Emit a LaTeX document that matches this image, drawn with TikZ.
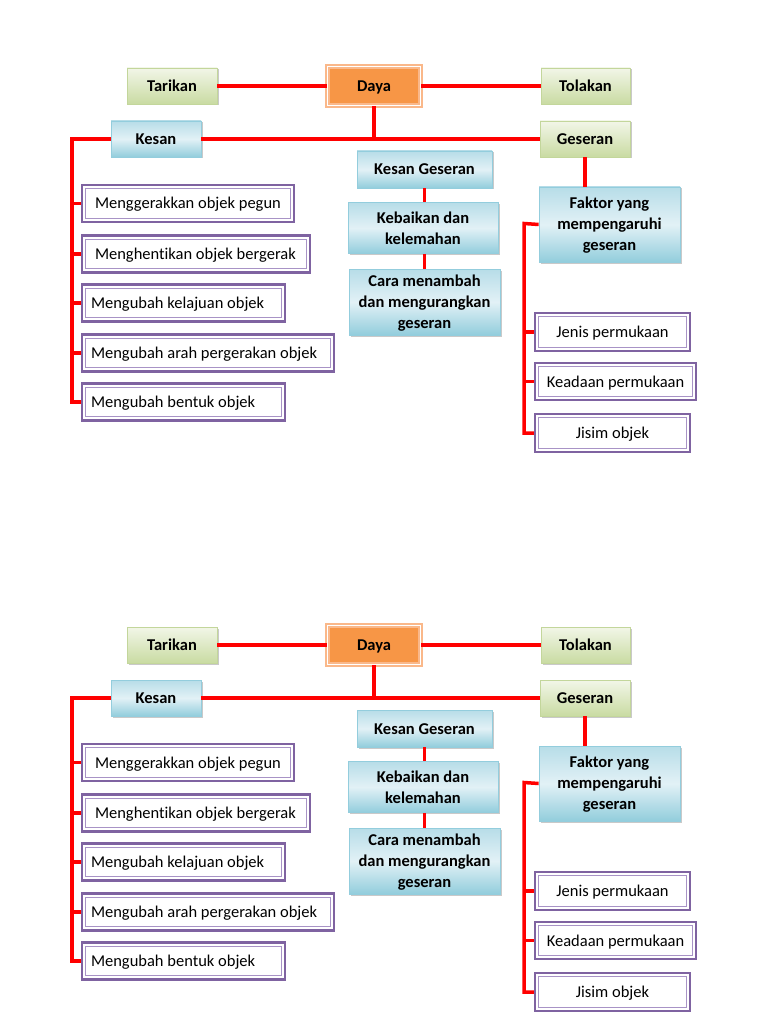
\documentclass[tikz,border=0pt]{standalone}
\usepackage{fontspec}
\setmainfont{Carlito}[Ligatures=NoCommon]
\usetikzlibrary{shadows}
\definecolor{redline}{HTML}{FF0000}
\definecolor{gtop}{HTML}{F2F6E8}
\definecolor{gbot}{HTML}{C9DBA2}
\definecolor{gdraw}{HTML}{C3D69B}
\definecolor{btop}{HTML}{B7DDE8}
\definecolor{bmid}{HTML}{E2F1F6}
\definecolor{bbot}{HTML}{92CDDC}
\definecolor{bdraw}{HTML}{93CDDD}
\definecolor{purp}{HTML}{7F63A1}
\definecolor{purpin}{HTML}{A893C6}
\definecolor{orfill}{HTML}{F79646}
\definecolor{ordraw}{HTML}{FAB88A}
\newcommand{\lbx}[2]{\makebox[#1][l]{#2}}
\begin{document}
\begin{tikzpicture}[x=1pt,y=-1pt,
  font=\fontsize{16.5}{21}\selectfont,
  link/.style={draw=redline, line width=3.5pt},
  one/.style={text height=1.1em, text depth=0pt},
  shad/.style={drop shadow={shadow xshift=1.5pt, shadow yshift=-1.5pt, opacity=0.35, fill=black!60}},
  greenbox/.style={one, shad, draw=gdraw, line width=0.8pt, top color=gtop, bottom color=gbot, font=\fontsize{16.5}{21}\selectfont\bfseries, inner sep=2pt},
  bluebox/.style={shad, draw=bdraw, line width=0.8pt, top color=btop, bottom color=bbot, middle color=bmid, font=\fontsize{16.5}{21}\selectfont\bfseries, align=center, inner sep=2pt},
  purpbox/.style={one, draw=purp, line width=2.4pt, fill=white, inner sep=2pt,
    path picture={\draw[purpin, line width=1pt] ([shift={(3.6pt,-3.6pt)}]path picture bounding box.north west) rectangle ([shift={(-3.6pt,3.6pt)}]path picture bounding box.south east);}},
  dayabox/.style={one, draw=ordraw, line width=1.6pt, double=white, double distance=1pt, fill=orfill, font=\fontsize{16.5}{21}\selectfont\bfseries}
]
\useasboundingbox (0,0) rectangle (768,1024);
\fill[white] (0,0) rectangle (768,1024);
\foreach \i/\dy in {a/0, b/559}{
\begin{scope}[yshift=-\dy pt]
  % top row
  \node[greenbox, minimum width=90pt, minimum height=36pt] (tarikan\i) at (172,86) {Tarikan};
  \node[dayabox, minimum width=93pt, minimum height=39pt] (daya\i) at (374,86) {Daya};
  \node[greenbox, minimum width=89pt, minimum height=36pt] (tolakan\i) at (585.5,86) {Tolakan};
  \node[bluebox, one, minimum width=90pt, minimum height=36pt] (kesan\i) at (156,139) {Kesan};
  \node[greenbox, minimum width=90pt, minimum height=36pt] (geseran\i) at (585,139) {Geseran};
  % left column
  \node[purpbox, inner xsep=13pt, minimum height=37pt] (pa\i) at (188,203.5) {\lbx{186pt}{Menggerakkan objek pegun}};
  \node[purpbox, inner xsep=13pt, minimum height=37pt] (pb\i) at (196,254) {\lbx{202pt}{Menghentikan objek bergerak}};
  \node[purpbox, inner xsep=9pt, minimum height=37pt] (pc\i) at (183.5,303) {\lbx{185pt}{Mengubah kelajuan objek}};
  \node[purpbox, inner xsep=9pt, minimum height=37pt] (pd\i) at (208,353) {\lbx{234pt}{Mengubah arah pergerakan objek}};
  \node[purpbox, inner xsep=9pt, minimum height=37pt] (pe\i) at (183.5,402) {\lbx{185pt}{Mengubah bentuk objek}};
  % middle column
  \node[bluebox, one, minimum width=135pt, minimum height=37pt] (kg\i) at (424.5,169.5) {Kesan Geseran};
  \node[bluebox, minimum width=150pt, minimum height=51pt] (keb\i) at (423,228) {Kebaikan dan\\kelemahan};
  \node[bluebox, minimum width=151pt, minimum height=66pt] (cara\i) at (424.5,302) {\rule{0pt}{13pt}Cara menambah\\dan mengurangkan\\geseran};
  % right column
  \node[bluebox, minimum width=141pt, minimum height=75pt] (faktor\i) at (609.5,224.5) {\rule{0pt}{12pt}Faktor yang\\mempengaruhi\\geseran};
  \node[purpbox, minimum width=155pt, minimum height=38pt] (jenis\i) at (612.5,332) {Jenis permukaan};
  \node[purpbox, minimum width=161pt, minimum height=37pt] (keadaan\i) at (615.5,381.5) {Keadaan permukaan};
  \node[purpbox, minimum width=155pt, minimum height=38pt] (jisim\i) at (612.5,433) {Jisim objek};
  % connectors
  \coordinate (jn\i) at (374,139);
  \coordinate (lt\i) at (72,139);
  \coordinate (lb\i) at (72,402);
  \coordinate (rt\i) at (524,223.5);
  \coordinate (rb\i) at (524,433);
  \draw[link] (tarikan\i.east) -- (daya\i.west);
  \draw[link] (daya\i.east) -- (tolakan\i.west);
  \draw[link] (daya\i.south) -- (jn\i);
  \draw[link] (kesan\i.east) -- (geseran\i.west);
  \draw[link, line join=miter] (kesan\i.west) -- (lt\i) -- (lb\i) -- (pe\i.west);
  \draw[link] (lt\i |- pa\i.west) -- (pa\i.west);
  \draw[link] (lt\i |- pb\i.west) -- (pb\i.west);
  \draw[link] (lt\i |- pc\i.west) -- (pc\i.west);
  \draw[link] (lt\i |- pd\i.west) -- (pd\i.west);
  \draw[link] (kg\i.south) -- (keb\i.north -| kg\i.south);
  \draw[link] (keb\i.south -| kg\i.south) -- (cara\i.north -| kg\i.south);
  \draw[link] (geseran\i.south) -- (geseran\i.south |- faktor\i.north);
  \draw[link, line join=miter] (faktor\i.west) -- (rt\i) -- (rb\i) -- (jisim\i.west);
  \draw[link] (rt\i |- jenis\i.west) -- (jenis\i.west);
  \draw[link] (rt\i |- keadaan\i.west) -- (keadaan\i.west);
\end{scope}
}
\end{tikzpicture}
\end{document}
